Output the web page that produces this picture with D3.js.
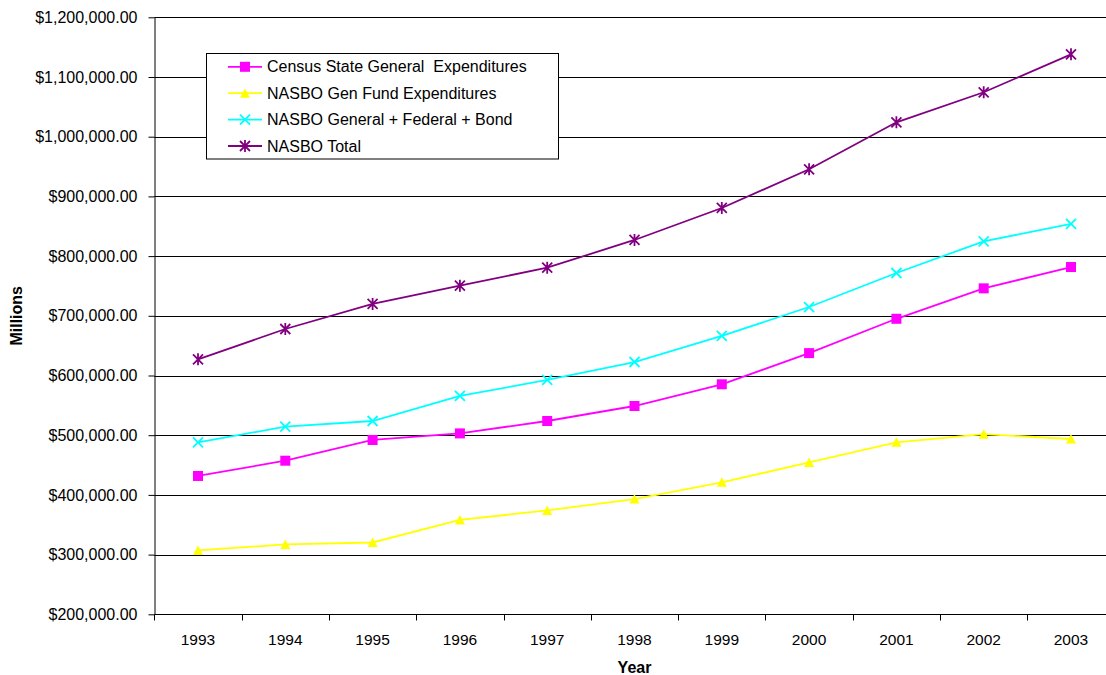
<!DOCTYPE html>
<html>
<head>
<meta charset="utf-8">
<script src="https://cdn.jsdelivr.net/npm/d3@7"></script>
<style>
  html, body { margin: 0; padding: 0; background: #fff; }
  svg { display: block; font-family: Arial, "Liberation Sans", sans-serif; }
</style>
</head>
<body>
<svg id="chart" width="1106" height="675"></svg>
<script>
// State expenditure series, millions of dollars
const years = ["1993","1994","1995","1996","1997","1998","1999","2000","2001","2002","2003"];
const censusGeneral = [431700, 457300, 492000, 503000, 523800, 548900, 585300, 637500, 695000, 746000, 781700];
const nasboGenFund = [307000, 317000, 320300, 358000, 374000, 393000, 421000, 454300, 488000, 501700, 493600];
const nasboGenFedBond = [488100, 514200, 523800, 565700, 592500, 622600, 666200, 714700, 771700, 824800, 853800];
const nasboTotal = [627100, 677900, 719800, 750400, 780600, 827000, 880600, 945400, 1024100, 1074400, 1138000];
const yTicks = [200000, 300000, 400000, 500000, 600000, 700000, 800000, 900000, 1000000, 1100000, 1200000];
const seriesNames = ["Census State General  Expenditures", "NASBO Gen Fund Expenditures", "NASBO General + Federal + Bond", "NASBO Total"];

const series = [
  { name: seriesNames[0], values: censusGeneral, color: "#FF00FF", marker: "square" },
  { name: seriesNames[1], values: nasboGenFund, color: "#FFFF00", marker: "triangle" },
  { name: seriesNames[2], values: nasboGenFedBond, color: "#00FFFF", marker: "cross" },
  { name: seriesNames[3], values: nasboTotal, color: "#800080", marker: "star" }
];

const svg = d3.select("#chart");
const plotLeft = 154.35, plotRight = 1114.65, plotTop = 17.3, plotBottom = 614.3;

const x = d3.scaleBand().domain(years).range([plotLeft, plotRight]).paddingInner(0).paddingOuter(0);
const y = d3.scaleLinear().domain([200000, 1200000]).range([plotBottom, plotTop]);
const fmt = v => "$" + d3.format(",.2f")(v);

// horizontal gridlines
svg.append("g").selectAll("line").data(yTicks.slice(1)).join("line")
  .attr("x1", plotLeft).attr("x2", plotRight)
  .attr("y1", d => Math.round(y(d)) + 0.5).attr("y2", d => Math.round(y(d)) + 0.5)
  .attr("stroke", "#000").attr("stroke-width", 1);

// y axis
const yAxis = svg.append("g").attr("transform", `translate(${Math.round(plotLeft) + 0.5},0)`)
  .call(d3.axisLeft(y).tickValues(yTicks).tickFormat(fmt).tickSizeInner(6).tickSizeOuter(0).tickPadding(11));
yAxis.select(".domain").attr("stroke", "#000");
yAxis.selectAll(".tick line").attr("stroke", "#000");
yAxis.selectAll(".tick text").attr("font-size", "16px").attr("fill", "#000")
  .attr("font-family", "Arial, 'Liberation Sans', sans-serif");

// x axis: labels centred in each category, ticks on category boundaries
const xAxis = svg.append("g").attr("transform", `translate(0,${Math.round(plotBottom) + 0.5})`);
xAxis.append("line").attr("x1", plotLeft).attr("x2", plotRight).attr("stroke", "#000");
const bounds = years.map(d => x(d)).concat([x(years[years.length - 1]) + x.bandwidth()]);
xAxis.selectAll(".bt").data(bounds).join("line").attr("class", "bt")
  .attr("x1", d => Math.round(d) + 0.5).attr("x2", d => Math.round(d) + 0.5)
  .attr("y1", 0).attr("y2", 6).attr("stroke", "#000");
xAxis.selectAll(".lb").data(years).join("text").attr("class", "lb")
  .attr("x", d => x(d) + x.bandwidth() / 2).attr("y", 30)
  .attr("text-anchor", "middle").attr("font-size", "15.5px").attr("fill", "#000")
  .text(d => d);

// axis titles
svg.append("text").attr("transform", `translate(22,${(plotTop + plotBottom) / 2}) rotate(-90)`)
  .attr("text-anchor", "middle").attr("font-size", "16px").attr("font-weight", "bold").text("Millions");
svg.append("text").attr("x", (plotLeft + plotRight) / 2).attr("y", 673)
  .attr("text-anchor", "middle").attr("font-size", "16px").attr("font-weight", "bold").text("Year");

// marker drawing
function drawMarker(g, type, color) {
  const s = 5;
  if (type === "square") {
    g.append("rect").attr("x", -s).attr("y", -s).attr("width", 2 * s).attr("height", 2 * s).attr("fill", color);
  } else if (type === "triangle") {
    g.append("path").attr("d", `M0,${-s}L${s},${s - 0.5}L${-s},${s - 0.5}Z`).attr("fill", color);
  } else if (type === "cross") {
    g.append("path").attr("d", `M${-s},${-s}L${s},${s}M${-s},${s}L${s},${-s}`).attr("stroke", color).attr("stroke-width", 1.8);
  } else {
    g.append("path").attr("d", `M${-s},${-s}L${s},${s}M${-s},${s}L${s},${-s}M0,${-s - 1}L0,${s + 1}`)
      .attr("stroke", color).attr("stroke-width", 1.8);
  }
}

const line = d3.line().x((d, i) => x(years[i]) + x.bandwidth() / 2).y(d => y(d));

series.forEach(sr => {
  svg.append("path").datum(sr.values).attr("d", line)
    .attr("fill", "none").attr("stroke", sr.color).attr("stroke-width", 1.8);
  sr.values.forEach((v, i) => {
    const g = svg.append("g").attr("transform", `translate(${x(years[i]) + x.bandwidth() / 2},${y(v)})`);
    drawMarker(g, sr.marker, sr.color);
  });
});

// legend
const lg = svg.append("g");
lg.append("rect").attr("x", 206.5).attr("y", 53.5).attr("width", 352).attr("height", 105.5)
  .attr("fill", "#fff").attr("stroke", "#000").attr("stroke-width", 1);
series.forEach((sr, i) => {
  const cy = 66.8 + i * 26.4;
  lg.append("line").attr("x1", 228).attr("x2", 262).attr("y1", cy).attr("y2", cy)
    .attr("stroke", sr.color).attr("stroke-width", 1.8);
  drawMarker(lg.append("g").attr("transform", `translate(245,${cy})`), sr.marker, sr.color);
  lg.append("text").attr("x", 267).attr("y", cy).attr("dy", "0.35em")
    .attr("font-size", "16px").attr("fill", "#000")
    .style("white-space", "pre").text(sr.name);
});
</script>
</body>
</html>
